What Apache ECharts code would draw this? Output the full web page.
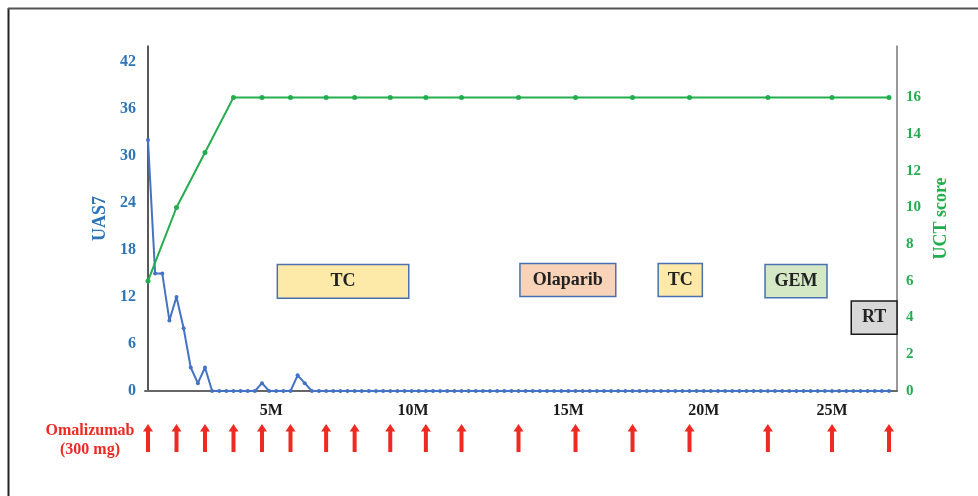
<!DOCTYPE html>
<html>
<head>
<meta charset="utf-8">
<script src="https://cdn.jsdelivr.net/npm/echarts@6/dist/echarts.min.js"></script>
<style>
html,body{margin:0;padding:0;background:#fff;}
#chart{width:978px;height:496px;}
</style>
</head>
<body>
<div id="chart"></div>
<script>
// UAS7 weekly scores, weeks 0..104
var uasWeeks = [];
for (var i = 0; i <= 104; i++) uasWeeks.push(i);
var uasValues = [32,15,15,9,12,8,3,1,3,0,
  0,0,0,0,0,0,1,0,0,0,
  0,2,1,0,0,0,0,0,0,0,
  0,0,0,0,0,0,0,0,0,0,
  0,0,0,0,0,0,0,0,0,0,
  0,0,0,0,0,0,0,0,0,0,
  0,0,0,0,0,0,0,0,0,0,
  0,0,0,0,0,0,0,0,0,0,
  0,0,0,0,0,0,0,0,0,0,
  0,0,0,0,0,0,0,0,0,0,
  0,0,0,0,0];
// Omalizumab injection weeks (also UCT assessment times)
var injectionWeeks = [0,4,8,12,16,20,25,29,34,39,44,52,60,68,76,87,96,104];
var uctValues = [6,10,13,16,16,16,16,16,16,16,16,16,16,16,16,16,16,16];
// axis tick labels
var xTickWeeks = [17.3,37.2,59,78,96];
var xTickLabels = ['5M','10M','15M','20M','25M'];
var uasTicks = [0,6,12,18,24,30,36,42];
var uctTicks = [0,2,4,6,8,10,12,14,16];
// treatment periods: [startWeek, endWeek, topUAS, bottomUAS]
var treatNames = ['TC','Olaparib','TC','GEM','RT'];
var treatStart = [18.15,52.2,71.6,86.6,98.7];
var treatEnd = [36.6,65.65,77.8,95.3,105.12];
var treatTop = [16.13,16.26,16.26,16.13,11.49];
var treatBottom = [11.84,12.04,12.04,11.88,7.24];
var treatFill = ['#FDEAA8','#F8D3B8','#FDEAA8','#D4E8C6','#D8D8D8'];
var treatBorder = ['#4A72B0','#4A72B0','#4A72B0','#4A72B0','#1a1a1a'];

var XMIN = -0.42, XMAX = 105.12;
var serif = '"Liberation Serif","Times New Roman",serif';
var blue = '#4472C4', blueText = '#2E75B6', green = '#22AE4E', red = '#EE2A22';

var areas = treatNames.map(function(n, i){
  return [{
    name: n,
    xAxis: treatStart[i], yAxis: treatTop[i],
    itemStyle: {color: treatFill[i], borderColor: treatBorder[i], borderWidth: 1.5, opacity: 1},
    label: {show: true, position: 'inside', formatter: n, color: '#222', fontFamily: serif, fontWeight: 'bold', fontSize: 18}
  }, {xAxis: treatEnd[i], yAxis: treatBottom[i]}];
});

var chart = echarts.init(document.getElementById('chart'), null, {renderer: 'canvas'});
chart.setOption({
  animation: false,
  backgroundColor: '#fff',
  grid: [
    {left: 145, right: 81, top: 46, bottom: 105, containLabel: false},
    {left: 145, right: 81, top: 424, height: 28, containLabel: false}
  ],
  xAxis: [{
    type: 'value', gridIndex: 0, min: XMIN, max: XMAX,
    axisLine: {show: true, onZero: false, lineStyle: {color: '#666', width: 2}},
    axisTick: {show: false},
    splitLine: {show: false},
    axisLabel: {
      customValues: xTickWeeks,
      formatter: function(v){ var k = xTickWeeks.indexOf(v); return k >= 0 ? xTickLabels[k] : ''; },
      color: '#1a1a1a', fontFamily: serif, fontWeight: 'bold', fontSize: 16, margin: 12
    }
  }, {
    type: 'value', gridIndex: 1, min: XMIN, max: XMAX, show: false
  }],
  yAxis: [{
    type: 'value', gridIndex: 0, min: 0, max: 44, interval: 6,
    name: 'UAS7', nameLocation: 'middle', nameGap: 35,
    nameTextStyle: {color: blueText, fontFamily: serif, fontWeight: 'bold', fontSize: 18},
    axisLine: {show: true, lineStyle: {color: '#222', width: 1.5}},
    axisTick: {show: false}, splitLine: {show: false},
    axisLabel: {customValues: uasTicks, color: blueText, fontFamily: serif, fontWeight: 'bold', fontSize: 16, margin: 9}
  }, {
    type: 'value', gridIndex: 0, position: 'right', min: 0, max: 18.8, interval: 2,
    name: 'UCT score', nameLocation: 'middle', nameGap: 32,
    nameTextStyle: {color: green, fontFamily: serif, fontWeight: 'bold', fontSize: 18},
    axisLine: {show: true, lineStyle: {color: '#777', width: 1.5}},
    axisTick: {show: false}, splitLine: {show: false},
    axisLabel: {customValues: uctTicks, color: green, fontFamily: serif, fontWeight: 'bold', fontSize: 15, margin: 9}
  }, {
    type: 'value', gridIndex: 1, min: 0, max: 1, show: false
  }],
  series: [{
    type: 'line', name: 'UAS7', xAxisIndex: 0, yAxisIndex: 0,
    data: uasWeeks.map(function(w, i){ return [w, uasValues[i]]; }),
    symbol: 'circle', symbolSize: 4, showAllSymbol: true,
    lineStyle: {color: blue, width: 2}, itemStyle: {color: blue},
    markArea: {silent: true, data: areas}, z: 3
  }, {
    type: 'line', name: 'UCT', xAxisIndex: 0, yAxisIndex: 1,
    data: injectionWeeks.map(function(w, i){ return [w, uctValues[i]]; }),
    symbol: 'circle', symbolSize: 5,
    lineStyle: {color: green, width: 2}, itemStyle: {color: green}, z: 4
  }, {
    type: 'scatter', name: 'Omalizumab', xAxisIndex: 1, yAxisIndex: 2,
    data: injectionWeeks.map(function(w){ return [w, 0.5]; }),
    symbol: 'path://M5,0 L10,8 L7,8 L7,30 L3,30 L3,8 L0,8 Z',
    symbolSize: [10, 28], itemStyle: {color: red, opacity: 1}
  }],
  graphic: [
    {type: 'line', shape: {x1: 8.5, y1: 8, x2: 8.5, y2: 496}, style: {stroke: '#222', lineWidth: 2}},
    {type: 'line', shape: {x1: 8, y1: 8.5, x2: 978, y2: 8.5}, style: {stroke: '#555', lineWidth: 2}},
    {type: 'text', x: 90, y: 421, style: {text: 'Omalizumab\n(300 mg)', fill: red, font: 'bold 16px ' + serif, align: 'center', lineHeight: 19}}
  ]
});
</script>
</body>
</html>
